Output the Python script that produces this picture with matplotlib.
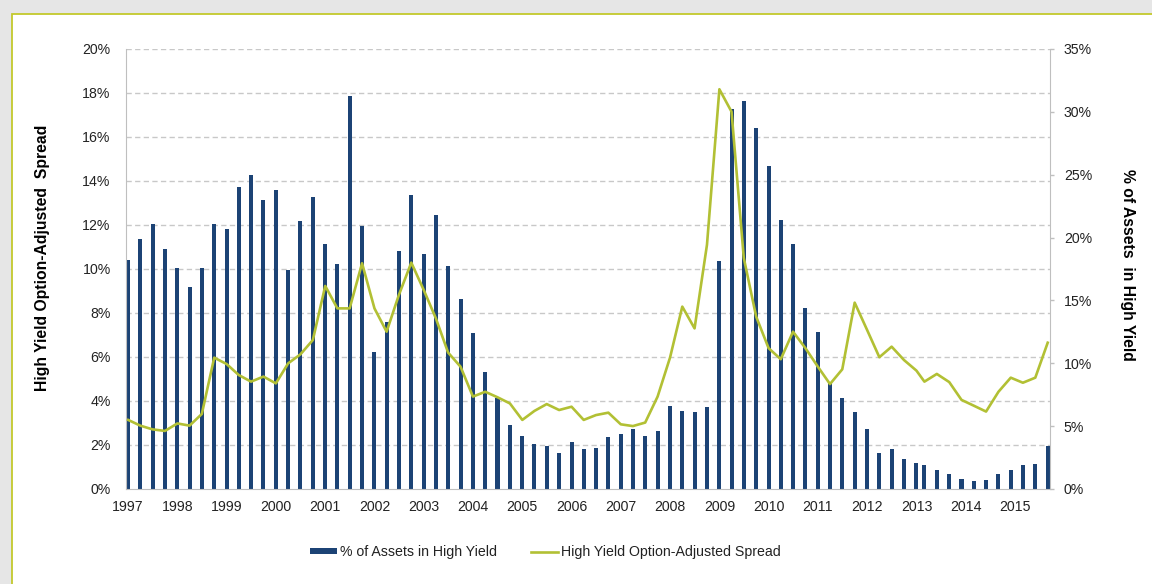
import matplotlib
matplotlib.use('Agg')
import matplotlib.pyplot as plt
import matplotlib.dates as mdates
from matplotlib.patches import Rectangle
from matplotlib.ticker import FuncFormatter
import pandas as pd

plt.rcParams['font.family'] = ['Liberation Sans', 'DejaVu Sans']

# quarterly observations; the series switches to Mar/Jun/Sep/Dec dates in 2013
dates = list(pd.date_range('1997-01-01', '2013-01-01', freq='QS')) + \
        list(pd.date_range('2013-03-01', '2015-09-01', freq='3MS'))

# % of assets in high yield (right axis)
assets_hy = [18.2, 19.9, 21.1, 19.1,
             17.6, 16.1, 17.6, 21.1,
             20.7, 24.0, 25.0, 23.0,
             23.8, 17.4, 21.3, 23.2,
             19.5, 17.9, 31.3, 20.9,
             10.9, 13.3, 18.9, 23.4,
             18.7, 21.8, 17.7, 15.1,
             12.4, 9.3, 7.2, 5.1,
             4.2, 3.6, 3.4, 2.9,
             3.7, 3.2, 3.3, 4.1,
             4.4, 4.8, 4.2, 4.6,
             6.6, 6.2, 6.1, 6.5,
             18.1, 30.2, 30.9, 28.7,
             25.7, 21.4, 19.5, 14.4,
             12.5, 8.4, 7.2, 6.1,
             4.8, 2.9, 3.2, 2.4,
             2.1,
             1.9, 1.5, 1.2, 0.8, 0.6, 0.7, 1.2, 1.5, 1.9, 2.0, 3.4]

# high yield option-adjusted spread (left axis)
hy_oas = [3.14, 2.88, 2.71, 2.64,
          2.98, 2.88, 3.41, 5.97,
          5.68, 5.18, 4.88, 5.11,
          4.80, 5.71, 6.12, 6.77,
          9.23, 8.21, 8.21, 10.26,
          8.21, 7.15, 8.82, 10.29,
          9.05, 7.76, 6.20, 5.56,
          4.20, 4.42, 4.17, 3.89,
          3.14, 3.55, 3.86, 3.59,
          3.74, 3.14, 3.36, 3.47,
          2.94, 2.86, 3.02, 4.20,
          5.97, 8.29, 7.30, 11.10,
          18.17, 17.15, 10.50, 7.83,
          6.40, 5.90, 7.15, 6.40,
          5.56, 4.77, 5.44, 8.47,
          7.23, 5.99, 6.47, 5.86,
          5.38,
          4.88, 5.23, 4.86, 4.05, 3.79, 3.52, 4.42, 5.06, 4.83, 5.06, 6.65]

left_ticks = [0, 2, 4, 6, 8, 10, 12, 14, 16, 18, 20]
right_ticks = [0, 5, 10, 15, 20, 25, 30, 35]

bar_color = '#1c4375'
line_color = '#b2c034'
axis_gray = '#bfbfbf'
text_color = '#222222'
fs = 10.2

fig = plt.figure(figsize=(11.52, 5.84), dpi=100)
fig.patch.set_facecolor('#e6e6e6')
fig.add_artist(Rectangle((12 / 1152, -0.1), 1.0, 1 - 14 / 584 + 0.1,
                         transform=fig.transFigure, facecolor='white',
                         edgecolor='#c3c92c', lw=1.3, zorder=-1))

ax = fig.add_axes([126 / 1152, 1 - 489 / 584, (1050 - 126) / 1152, 440 / 584])
ax2 = ax.twinx()
ax.set_zorder(ax2.get_zorder() + 1)
ax.patch.set_visible(False)

# bars on the right-hand scale, drawn behind the spread line
ax2.bar(dates, assets_hy, width=30, color=bar_color, zorder=2,
        label='% of Assets in High Yield')
ax2.set_ylim(0, 35)
ax2.set_yticks(right_ticks)
ax2.yaxis.set_major_formatter(FuncFormatter(lambda v, p: f'{v:.0f}%'))
# gridlines follow the left-axis ticks but sit under the bars
ax2.yaxis.remove_overlapping_locs = False
ax2.set_yticks([t * 35 / 20 for t in left_ticks[1:]], minor=True)
ax2.grid(which='minor', axis='y', color='#c8c8c8', lw=1.0, linestyle=(0, (3.8, 2.4)))
ax2.set_axisbelow(True)
ax2.tick_params(axis='y', which='major', length=3, width=1, color=axis_gray,
                pad=7, labelsize=fs, labelcolor=text_color)
ax2.tick_params(axis='y', which='minor', length=0)

ax.plot(dates, hy_oas, color=line_color, lw=1.9, zorder=3,
        label='High Yield Option-Adjusted Spread')
ax.set_ylim(0, 20)
ax.set_yticks(left_ticks)
ax.yaxis.set_major_formatter(FuncFormatter(lambda v, p: f'{v:.0f}%'))
ax.tick_params(axis='y', length=0, pad=11, labelsize=fs, labelcolor=text_color)

ax.set_xlim(pd.Timestamp('1996-12-16'), pd.Timestamp('2015-09-18'))
ax.xaxis.set_major_locator(mdates.YearLocator())
ax.xaxis.set_major_formatter(mdates.DateFormatter('%Y'))
ax.tick_params(axis='x', length=0, pad=8, labelsize=fs, labelcolor=text_color)

for a in (ax, ax2):
    a.spines['top'].set_visible(False)
ax.spines['right'].set_visible(False)
ax.spines['left'].set_color(axis_gray)
ax.spines['bottom'].set_color(axis_gray)
ax2.spines['left'].set_visible(False)
ax2.spines['bottom'].set_visible(False)
ax2.spines['right'].set_color(axis_gray)

fig.text(43 / 1152, 1 - 258 / 584, 'High Yield Option-Adjusted  Spread',
         rotation=90, ha='center', va='center', fontsize=11.3,
         fontweight='bold', color='black')
fig.text(1127 / 1152, 1 - 265 / 584, '% of Assets  in High Yield',
         rotation=270, ha='center', va='center', fontsize=11.3,
         fontweight='bold', color='black')

h1, l1 = ax2.get_legend_handles_labels()
h2, l2 = ax.get_legend_handles_labels()
fig.legend(h1 + h2, l1 + l2, loc='center', bbox_to_anchor=(0.4735, 0.0548),
           ncol=2, frameon=False, fontsize=fs, handlelength=1.9,
           handleheight=0.35, handletextpad=0.2, columnspacing=2.4,
           labelcolor=text_color)

fig.savefig('out.png', dpi=100, facecolor=fig.get_facecolor())
